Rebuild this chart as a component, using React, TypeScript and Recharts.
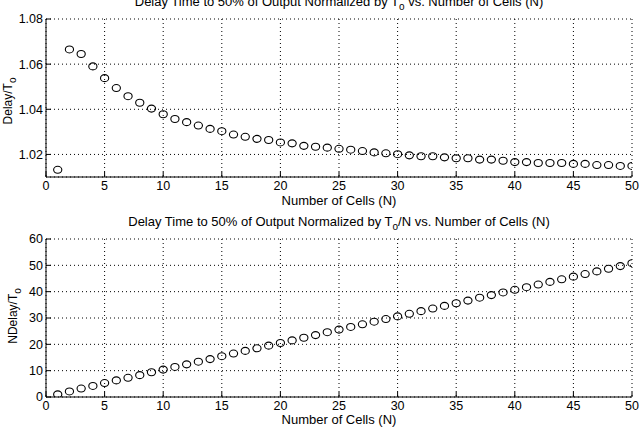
import React from "react";
import { ScatterChart, Scatter, XAxis, YAxis, CartesianGrid } from "recharts";

// number of cells in the chain
const cells = [
  1, 2, 3, 4, 5, 6, 7, 8, 9, 10, 11, 12, 13, 14, 15, 16, 17, 18, 19, 20, 21, 22, 23, 24, 25,
  26, 27, 28, 29, 30, 31, 32, 33, 34, 35, 36, 37, 38, 39, 40, 41, 42, 43, 44, 45, 46, 47, 48, 49, 50,
];

// 50% delay divided by To
const delayOverTo = [
  1.0132, 1.0665, 1.0645, 1.059, 1.0538, 1.0494, 1.0458, 1.0429, 1.0403, 1.0378,
  1.0357, 1.0343, 1.0328, 1.0313, 1.0303, 1.0288, 1.0278, 1.0269, 1.0264, 1.0253,
  1.0249, 1.0238, 1.0234, 1.023, 1.0225, 1.0221, 1.0215, 1.0209, 1.0205, 1.0201,
  1.0196, 1.0192, 1.0192, 1.0187, 1.0183, 1.0183, 1.0177, 1.0177, 1.0172, 1.0166,
  1.0166, 1.0162, 1.0162, 1.0162, 1.0158, 1.0158, 1.0153, 1.0153, 1.0149, 1.0149,
];

// 50% delay divided by To/N
const nDelayOverTo = [
  1.0, 2.1, 3.2, 4.2, 5.3, 6.3, 7.3, 8.3, 9.4, 10.4,
  11.4, 12.4, 13.4, 14.4, 15.5, 16.5, 17.5, 18.5, 19.5, 20.5,
  21.5, 22.5, 23.5, 24.6, 25.6, 26.6, 27.6, 28.6, 29.6, 30.6,
  31.6, 32.6, 33.6, 34.6, 35.6, 36.6, 37.7, 38.7, 39.7, 40.7,
  41.7, 42.7, 43.7, 44.7, 45.7, 46.7, 47.7, 48.7, 49.7, 50.8,
];

const cellTicks = [0, 5, 10, 15, 20, 25, 30, 35, 40, 45, 50];
const delayTicks = [1.02, 1.04, 1.06, 1.08];
const nDelayTicks = [0, 10, 20, 30, 40, 50, 60];

const FONT = "'Liberation Sans', Arial, Helvetica, sans-serif";
const tickStyle = { fontSize: 12.5, fill: "#000", fontFamily: FONT };
const blank = () => "";

// open marker, a touch wider than tall
const Ring = (props: any) => (
  <ellipse cx={props.cx} cy={props.cy} rx={4.1} ry={3.5} fill="none" stroke="#000" strokeWidth={1.1} />
);

function Panel({
  data,
  yDomain,
  yTicks,
  yFormat,
  top,
  height,
  marginTop,
}: {
  data: Array<{ n: number; v: number }>;
  yDomain: [number, number];
  yTicks: number[];
  yFormat: (v: number) => string;
  top: number;
  height: number;
  marginTop: number;
}) {
  return (
    <div style={{ position: "absolute", left: 0, top }}>
      <ScatterChart width={642} height={height} margin={{ top: marginTop, right: 10, bottom: 0, left: 0 }}>
        <CartesianGrid stroke="#000" strokeDasharray="1 3" />
        <XAxis
          type="number"
          dataKey="n"
          domain={[0, 50]}
          ticks={cellTicks}
          height={23}
          tickSize={-5}
          tickMargin={9}
          tick={tickStyle}
          stroke="#000"
          allowDataOverflow
        />
        <YAxis
          type="number"
          dataKey="v"
          domain={yDomain}
          ticks={yTicks}
          width={46}
          tickSize={-5}
          tickMargin={8}
          tick={tickStyle}
          tickFormatter={yFormat}
          stroke="#000"
          allowDataOverflow
        />
        <XAxis
          xAxisId="top"
          orientation="top"
          type="number"
          domain={[0, 50]}
          ticks={cellTicks}
          height={0}
          tickSize={-5}
          tickFormatter={blank}
          stroke="#000"
        />
        <YAxis
          yAxisId="right"
          orientation="right"
          type="number"
          domain={yDomain}
          ticks={yTicks}
          width={0}
          tickSize={-5}
          tickFormatter={blank}
          stroke="#000"
        />
        <Scatter data={data} shape={Ring} isAnimationActive={false} />
      </ScatterChart>
    </div>
  );
}

const textBase: React.CSSProperties = {
  position: "absolute",
  fontFamily: FONT,
  fontSize: 13,
  color: "#000",
  whiteSpace: "nowrap",
  lineHeight: "12px",
};

function Centered({ y, children }: { y: number; children: React.ReactNode }) {
  return (
    <div style={{ ...textBase, left: 39, width: 600, top: y - 6, textAlign: "center" }}>{children}</div>
  );
}

function Vertical({ x, y, children }: { x: number; y: number; children: React.ReactNode }) {
  return (
    <div
      style={{
        ...textBase,
        fontSize: 12,
        left: x,
        top: y,
        transform: "translate(-50%, -50%) rotate(-90deg)",
      }}
    >
      {children}
    </div>
  );
}

const sub = { fontSize: 10, verticalAlign: "-4px" } as React.CSSProperties;

export default function App() {
  const upper = cells.map((n, i) => ({ n, v: delayOverTo[i] }));
  const lower = cells.map((n, i) => ({ n, v: nDelayOverTo[i] }));

  return (
    <div
      style={{
        position: "absolute",
        left: 0,
        top: 0,
        width: 642,
        height: 427,
        background: "#fff",
        overflow: "hidden",
      }}
    >
      <Panel
        data={upper}
        yDomain={[1.01, 1.08]}
        yTicks={delayTicks}
        yFormat={(v) => v.toFixed(2)}
        top={0}
        height={200}
        marginTop={19}
      />
      <Panel
        data={lower}
        yDomain={[0, 60]}
        yTicks={nDelayTicks}
        yFormat={(v) => String(v)}
        top={200}
        height={220}
        marginTop={39}
      />

      <Centered y={2}>
        Delay Time to 50% of Output Normalized by T<span style={sub}>o</span> vs. Number of Cells (N)
      </Centered>
      <Centered y={201}>Number of Cells (N)</Centered>
      <Centered y={222}>
        Delay Time to 50% of Output Normalized by T<span style={sub}>o</span>/N vs. Number of Cells (N)
      </Centered>
      <Centered y={420}>Number of Cells (N)</Centered>

      <Vertical x={10} y={101}>
        Delay/T<span style={sub}>o</span>
      </Vertical>
      <Vertical x={15} y={316}>
        NDelay/T<span style={sub}>o</span>
      </Vertical>
    </div>
  );
}
